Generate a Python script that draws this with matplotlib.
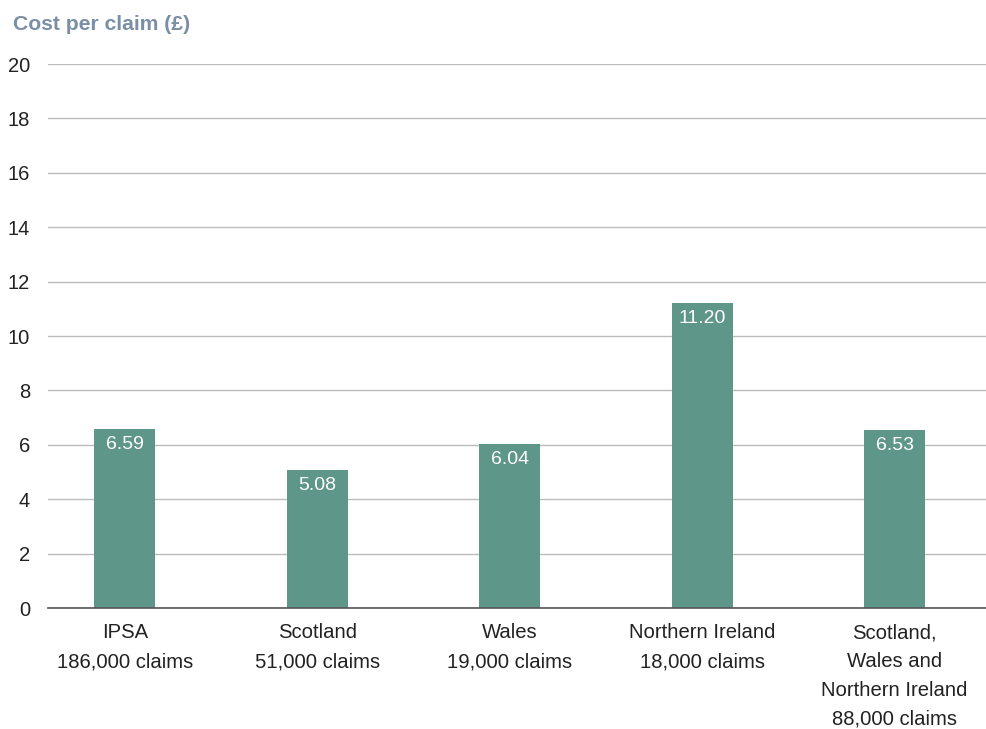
import matplotlib
matplotlib.use("Agg")
import matplotlib.pyplot as plt
import numpy as np

# Cost per claim by scheme
regions = ["IPSA\n186,000 claims",
           "Scotland\n51,000 claims",
           "Wales\n19,000 claims",
           "Northern Ireland\n18,000 claims",
           "Scotland,\nWales and\nNorthern Ireland\n88,000 claims"]
cost = [6.59, 5.08, 6.04, 11.20, 6.53]
yticks = [0, 2, 4, 6, 8, 10, 12, 14, 16, 18, 20]

bar_color = "#5F968A"
plt.rcParams["font.family"] = ["Liberation Sans", "DejaVu Sans"]

fig = plt.figure(figsize=(9.87, 7.29), dpi=100)
ax = fig.add_axes([48/987, 1 - 608/729, 939/987, 544/729])

x = np.arange(len(regions))
ax.bar(x, cost, width=0.317, color=bar_color, zorder=3)

for xi, v in zip(x, cost):
    ax.text(xi, v - 0.25, f"{v:.2f}", ha="center", va="top",
            color="white", fontsize=14, zorder=4)

ax.set_ylim(0, 20)
ax.set_xlim(-0.40, 4.48)
ax.set_yticks(yticks)
ax.set_yticklabels([str(t) for t in yticks], fontsize=14.5, color="#222222")
ax.set_xticks(x)
ax.set_xticklabels(regions, fontsize=14.6, color="#222222", linespacing=1.65,
                   va="top")
ax.tick_params(axis="both", length=0)
ax.tick_params(axis="y", pad=13)
ax.tick_params(axis="x", pad=11)

ax.grid(axis="y", color="#BBBBBB", linewidth=1, zorder=0)
for s in ["top", "right", "left"]:
    ax.spines[s].set_visible(False)
ax.spines["bottom"].set_color("#555555")
ax.spines["bottom"].set_linewidth(1.2)
ax.spines["bottom"].set_zorder(5)

fig.text(13/987, 1 - 24/729, "Cost per claim (£)", fontsize=15.2,
         fontweight="bold", color="#7A8FA6", ha="left", va="center")

fig.savefig("out.png", dpi=100)
